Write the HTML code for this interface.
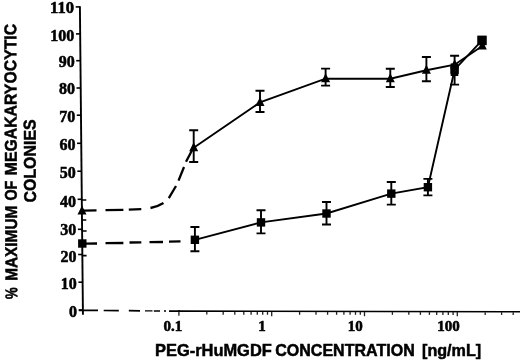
<!DOCTYPE html>
<html><head><meta charset="utf-8"><title>Figure</title>
<style>html,body{margin:0;padding:0;background:#fff}svg{display:block}</style></head>
<body>
<svg width="520" height="363" viewBox="0 0 520 363">
<rect width="520" height="363" fill="#fff"/>
<g stroke="#000" fill="none" stroke-linecap="butt">
<line x1="79.90" y1="6.2" x2="82.94" y2="314.8" stroke-width="1.9"/>
<line x1="78.69" y1="310.0" x2="82.89" y2="310.0" stroke-width="1.6"/>
<line x1="78.42" y1="282.2" x2="82.62" y2="282.2" stroke-width="1.6"/>
<line x1="78.15" y1="254.5" x2="82.35" y2="254.5" stroke-width="1.6"/>
<line x1="77.90" y1="229.3" x2="82.10" y2="229.3" stroke-width="1.6"/>
<line x1="77.60" y1="199.3" x2="81.80" y2="199.3" stroke-width="1.6"/>
<line x1="77.32" y1="171.2" x2="81.52" y2="171.2" stroke-width="1.6"/>
<line x1="77.05" y1="143.3" x2="81.25" y2="143.3" stroke-width="1.6"/>
<line x1="76.77" y1="115.2" x2="80.97" y2="115.2" stroke-width="1.6"/>
<line x1="76.50" y1="88.0" x2="80.70" y2="88.0" stroke-width="1.6"/>
<line x1="76.23" y1="60.7" x2="80.43" y2="60.7" stroke-width="1.6"/>
<line x1="75.97" y1="33.9" x2="80.17" y2="33.9" stroke-width="1.6"/>
<line x1="75.70" y1="6.9" x2="79.90" y2="6.9" stroke-width="1.6"/>
<line x1="78.8" y1="310.30" x2="98" y2="310.45" stroke-width="1.7"/>
<line x1="103.7" y1="310.50" x2="118.8" y2="310.63" stroke-width="1.7"/>
<line x1="128.8" y1="310.72" x2="140" y2="310.81" stroke-width="1.7"/>
<line x1="145" y1="310.86" x2="152.5" y2="310.92" stroke-width="1.2"/>
<line x1="153.8" y1="310.93" x2="160" y2="310.99" stroke-width="1.6"/>
<line x1="164" y1="311.02" x2="166" y2="311.04" stroke-width="1.4"/>
<line x1="169" y1="311.06" x2="180" y2="311.16" stroke-width="1.7"/>
<line x1="178" y1="311.14" x2="520" y2="311.76" stroke-width="1.6"/>
<line x1="178.9" y1="311.55" x2="178.9" y2="315.75" stroke-width="1.3" stroke="#222"/>
<line x1="206.8" y1="311.79" x2="206.8" y2="314.59" stroke-width="1.3" stroke="#222"/>
<line x1="223.2" y1="311.90" x2="223.2" y2="314.70" stroke-width="1.3" stroke="#222"/>
<line x1="234.8" y1="311.91" x2="234.8" y2="314.71" stroke-width="1.3" stroke="#222"/>
<line x1="243.8" y1="311.92" x2="243.8" y2="314.72" stroke-width="1.3" stroke="#222"/>
<line x1="251.1" y1="311.93" x2="251.1" y2="314.73" stroke-width="1.3" stroke="#222"/>
<line x1="257.3" y1="311.93" x2="257.3" y2="314.73" stroke-width="1.3" stroke="#222"/>
<line x1="262.7" y1="311.94" x2="262.7" y2="314.74" stroke-width="1.3" stroke="#222"/>
<line x1="267.5" y1="311.94" x2="267.5" y2="314.74" stroke-width="1.3" stroke="#222"/>
<line x1="271.7" y1="311.94" x2="271.7" y2="316.14" stroke-width="1.3" stroke="#222"/>
<line x1="299.6" y1="311.97" x2="299.6" y2="314.77" stroke-width="1.3" stroke="#222"/>
<line x1="316.0" y1="311.98" x2="316.0" y2="314.78" stroke-width="1.3" stroke="#222"/>
<line x1="327.6" y1="311.99" x2="327.6" y2="314.79" stroke-width="1.3" stroke="#222"/>
<line x1="336.6" y1="312.00" x2="336.6" y2="314.80" stroke-width="1.3" stroke="#222"/>
<line x1="343.9" y1="312.01" x2="343.9" y2="314.81" stroke-width="1.3" stroke="#222"/>
<line x1="350.1" y1="312.01" x2="350.1" y2="314.81" stroke-width="1.3" stroke="#222"/>
<line x1="355.5" y1="312.02" x2="355.5" y2="314.82" stroke-width="1.3" stroke="#222"/>
<line x1="360.3" y1="312.02" x2="360.3" y2="314.82" stroke-width="1.3" stroke="#222"/>
<line x1="364.5" y1="312.03" x2="364.5" y2="316.23" stroke-width="1.3" stroke="#222"/>
<line x1="392.4" y1="312.05" x2="392.4" y2="314.85" stroke-width="1.3" stroke="#222"/>
<line x1="408.8" y1="312.06" x2="408.8" y2="314.86" stroke-width="1.3" stroke="#222"/>
<line x1="420.4" y1="312.07" x2="420.4" y2="314.87" stroke-width="1.3" stroke="#222"/>
<line x1="429.4" y1="312.08" x2="429.4" y2="314.88" stroke-width="1.3" stroke="#222"/>
<line x1="436.7" y1="312.09" x2="436.7" y2="314.89" stroke-width="1.3" stroke="#222"/>
<line x1="442.9" y1="312.09" x2="442.9" y2="314.89" stroke-width="1.3" stroke="#222"/>
<line x1="448.3" y1="312.10" x2="448.3" y2="314.90" stroke-width="1.3" stroke="#222"/>
<line x1="453.1" y1="312.10" x2="453.1" y2="314.90" stroke-width="1.3" stroke="#222"/>
<line x1="457.3" y1="312.11" x2="457.3" y2="316.31" stroke-width="1.3" stroke="#222"/>
<line x1="485.2" y1="312.13" x2="485.2" y2="314.93" stroke-width="1.3" stroke="#222"/>
<line x1="501.6" y1="312.14" x2="501.6" y2="314.94" stroke-width="1.3" stroke="#222"/>
<line x1="513.2" y1="312.15" x2="513.2" y2="314.95" stroke-width="1.3" stroke="#222"/>
<path d="M83 210.6 L96.5 210.4" stroke-width="2.3"/>
<path d="M105.5 210.2 L123.4 209.9" stroke-width="2.3"/>
<path d="M128.8 209.7 L141.3 209.2" stroke-width="2.3"/>
<path d="M168.8 198.2 L176 186" stroke-width="2.3"/>
<path d="M178.5 180.6 L184 167" stroke-width="2.3"/>
<path d="M186 161.8 L193 148.5" stroke-width="2.3"/>
<path d="M150.5 208 Q158 206.5 163.5 203" stroke-width="2.3"/>
<path d="M85.7 243.6 L97 243.5" stroke-width="2.3"/>
<path d="M105.5 243.2 L123.4 243" stroke-width="2.3"/>
<path d="M129.5 242.5 L141.3 242.3" stroke-width="2.3"/>
<path d="M149.5 242.2 L163 242" stroke-width="2.3"/>
<path d="M169 241.6 L180.5 241.3" stroke-width="2.3"/>
<polyline stroke-width="1.9" points="193.7,147.7 260.0,102.4 325.6,78.7 390.3,78.7 426.4,70.3 454.6,64.7 482.3,46.0"/>
<polyline stroke-width="1.9" points="194.9,239.8 261.0,222.4 326.5,213.5 391.3,193.6 427.9,187.2 454.6,69.7 482.0,40.3"/>
<path d="M193.7 130.2 V162.0 M189.2 130.2 H198.2 M189.2 162.0 H198.2" stroke-width="1.9"/>
<path d="M260.0 90.8 V112.0 M255.5 90.8 H264.5 M255.5 112.0 H264.5" stroke-width="1.9"/>
<path d="M325.6 68.6 V85.6 M321.1 68.6 H330.1 M321.1 85.6 H330.1" stroke-width="1.9"/>
<path d="M390.3 68.7 V87.0 M385.8 68.7 H394.8 M385.8 87.0 H394.8" stroke-width="1.9"/>
<path d="M426.4 57.0 V81.3 M421.9 57.0 H430.9 M421.9 81.3 H430.9" stroke-width="1.9"/>
<path d="M454.6 55.8 V84.6 M450.1 55.8 H459.1 M450.1 84.6 H459.1" stroke-width="1.9"/>
<path d="M194.9 227.0 V251.3 M190.4 227.0 H199.4 M190.4 251.3 H199.4" stroke-width="1.9"/>
<path d="M261.0 210.3 V233.4 M256.5 210.3 H265.5 M256.5 233.4 H265.5" stroke-width="1.9"/>
<path d="M326.5 202.0 V224.5 M322.0 202.0 H331.0 M322.0 224.5 H331.0" stroke-width="1.9"/>
<path d="M391.3 182.0 V204.6 M386.8 182.0 H395.8 M386.8 204.6 H395.8" stroke-width="1.9"/>
<path d="M427.9 178.9 V195.4 M423.4 178.9 H432.4 M423.4 195.4 H432.4" stroke-width="1.9"/>
<path d="M81.5 200.0 H86.3 M81.5 220.0 H86.3" stroke-width="1.7"/>
<path d="M81.8 231.0 H86.6 M81.8 255.6 H86.6" stroke-width="1.7"/>
</g>
<g fill="#000">
<path d="M82.0 205.5 L86.5 214.5 L77.5 214.5 Z"/>
<path d="M193.7 142.2 L198.2 151.2 L189.2 151.2 Z"/>
<path d="M260.0 96.9 L264.5 105.9 L255.5 105.9 Z"/>
<path d="M325.6 73.2 L330.1 82.2 L321.1 82.2 Z"/>
<path d="M390.3 73.2 L394.8 82.2 L385.8 82.2 Z"/>
<path d="M426.4 64.8 L430.9 73.8 L421.9 73.8 Z"/>
<path d="M454.6 59.2 L459.1 68.2 L450.1 68.2 Z"/>
<path d="M482.3 40.5 L486.8 49.5 L477.8 49.5 Z"/>
<rect x="78.1" y="239.3" width="8.4" height="8.4"/>
<rect x="190.70000000000002" y="235.60000000000002" width="8.4" height="8.4"/>
<rect x="256.8" y="218.20000000000002" width="8.4" height="8.4"/>
<rect x="322.3" y="209.3" width="8.4" height="8.4"/>
<rect x="387.1" y="189.4" width="8.4" height="8.4"/>
<rect x="423.7" y="183.0" width="8.4" height="8.4"/>
<rect x="450.40000000000003" y="65.5" width="8.4" height="8.4"/>
<rect x="477.8" y="36.099999999999994" width="8.4" height="8.4"/>
<rect x="450.7" y="63.4" width="7.6" height="12.6"/>
<rect x="477.3" y="35.6" width="9.4" height="9.6"/>
</g>
<g font-family="'Liberation Serif', serif" font-weight="bold" font-size="17" fill="#000" stroke="#000" stroke-width="0.55">
<text x="77.09" y="316.5" text-anchor="end" textLength="8.0" lengthAdjust="spacingAndGlyphs">0</text>
<text x="76.82" y="288.9" text-anchor="end" textLength="16.0" lengthAdjust="spacingAndGlyphs">10</text>
<text x="76.55" y="261.8" text-anchor="end" textLength="16.0" lengthAdjust="spacingAndGlyphs">20</text>
<text x="76.30" y="234.5" text-anchor="end" textLength="16.0" lengthAdjust="spacingAndGlyphs">30</text>
<text x="76.00" y="206.8" text-anchor="end" textLength="16.0" lengthAdjust="spacingAndGlyphs">40</text>
<text x="75.72" y="178.2" text-anchor="end" textLength="16.0" lengthAdjust="spacingAndGlyphs">50</text>
<text x="75.45" y="150.2" text-anchor="end" textLength="16.0" lengthAdjust="spacingAndGlyphs">60</text>
<text x="75.17" y="122.1" text-anchor="end" textLength="16.0" lengthAdjust="spacingAndGlyphs">70</text>
<text x="74.90" y="94.4" text-anchor="end" textLength="16.0" lengthAdjust="spacingAndGlyphs">80</text>
<text x="74.63" y="67.2" text-anchor="end" textLength="16.0" lengthAdjust="spacingAndGlyphs">90</text>
<text x="74.37" y="40.8" text-anchor="end" textLength="24.0" lengthAdjust="spacingAndGlyphs">100</text>
<text x="74.10" y="13.4" text-anchor="end" textLength="24.0" lengthAdjust="spacingAndGlyphs">110</text>
<text x="172.8" y="331.3" text-anchor="middle" font-size="15">0.1</text>
<text x="262" y="331.3" text-anchor="middle" font-size="15">1</text>
<text x="355.3" y="331.3" text-anchor="middle" font-size="15">10</text>
<text x="448.4" y="331.3" text-anchor="middle" font-size="15">100</text>
</g>
<g font-family="'Liberation Sans', sans-serif" font-weight="bold" font-size="16.5" fill="#000" stroke="#000" stroke-width="0.5">
<text x="155.0" y="356" textLength="116.8" lengthAdjust="spacingAndGlyphs">PEG-rHuMGDF</text>
<text x="275.2" y="356" textLength="139.6" lengthAdjust="spacingAndGlyphs">CONCENTRATION</text>
<text x="422.0" y="356" textLength="59.2" lengthAdjust="spacingAndGlyphs">[ng/mL]</text>
<text font-size="17" transform="translate(17.30,298.90) rotate(-90.25)" textLength="11.7" lengthAdjust="spacingAndGlyphs">%</text>
<text font-size="17" transform="translate(17.22,280.80) rotate(-90.25)" textLength="75.1" lengthAdjust="spacingAndGlyphs">MAXIMUM</text>
<text font-size="17" transform="translate(16.87,200.60) rotate(-90.25)" textLength="20.0" lengthAdjust="spacingAndGlyphs">OF</text>
<text font-size="17" transform="translate(16.76,175.30) rotate(-90.25)" textLength="151.5" lengthAdjust="spacingAndGlyphs">MEGAKARYOCYTIC</text>
<text font-size="17" transform="translate(35.9,202.50) rotate(-90.25)" textLength="83.2" lengthAdjust="spacingAndGlyphs">COLONIES</text>
</g>
</svg>
</body></html>
